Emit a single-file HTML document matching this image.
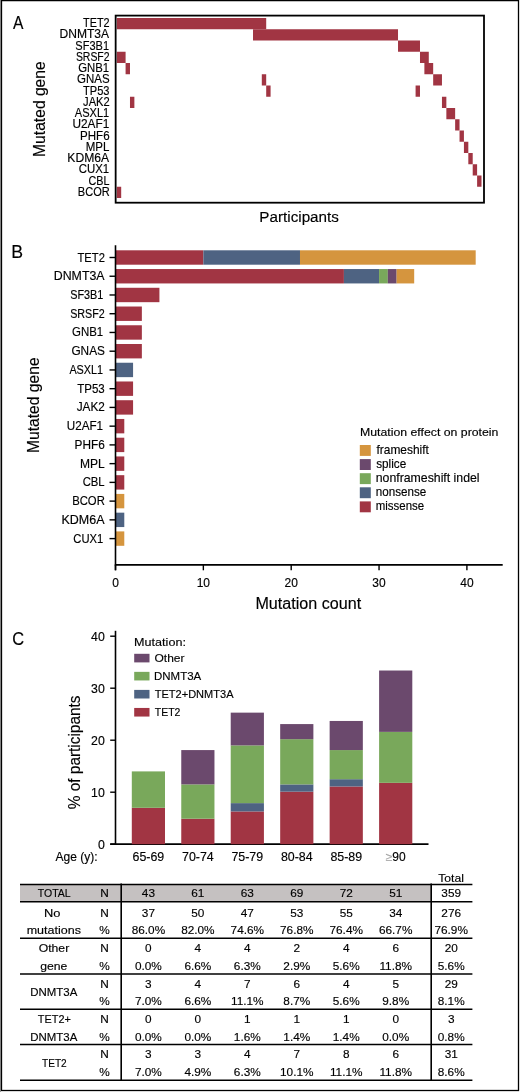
<!DOCTYPE html>
<html><head><meta charset="utf-8"><style>
html,body{margin:0;padding:0;background:#fff;}
body{width:520px;height:1092px;overflow:hidden;}
svg{display:block;font-family:"Liberation Sans", sans-serif;fill:#000000;will-change:transform;}
text{stroke:#000000;stroke-width:0.15px;}
</style></head><body>
<svg width="520" height="1092" viewBox="0 0 520 1092">
<rect x="0" y="0" width="520" height="1092" fill="#fff"/>
<line x1="0.50" y1="0.00" x2="0.50" y2="1092.00" stroke="#9a9a9a" stroke-width="1"/>
<rect x="1.5" y="0.6" width="517" height="1089.9" fill="none" stroke="#000000" stroke-width="1.3"/>
<text x="12.90" y="29.00" font-size="17.5" textLength="10.44" lengthAdjust="spacingAndGlyphs" >A</text>
<text x="83.08" y="27.20" font-size="12.4" textLength="26.60" lengthAdjust="spacingAndGlyphs" >TET2</text>
<text x="59.53" y="38.45" font-size="12.4" textLength="49.63" lengthAdjust="spacingAndGlyphs" >DNMT3A</text>
<text x="75.36" y="49.70" font-size="12.4" textLength="33.69" lengthAdjust="spacingAndGlyphs" >SF3B1</text>
<text x="75.88" y="60.95" font-size="12.4" textLength="33.69" lengthAdjust="spacingAndGlyphs" >SRSF2</text>
<text x="78.24" y="72.20" font-size="12.4" textLength="30.92" lengthAdjust="spacingAndGlyphs" >GNB1</text>
<text x="77.04" y="83.45" font-size="12.4" textLength="32.51" lengthAdjust="spacingAndGlyphs" >GNAS</text>
<text x="83.08" y="94.70" font-size="12.4" textLength="26.46" lengthAdjust="spacingAndGlyphs" >TP53</text>
<text x="83.07" y="105.95" font-size="12.4" textLength="26.69" lengthAdjust="spacingAndGlyphs" >JAK2</text>
<text x="74.80" y="117.20" font-size="12.4" textLength="34.42" lengthAdjust="spacingAndGlyphs" >ASXL1</text>
<text x="72.49" y="128.45" font-size="12.4" textLength="36.77" lengthAdjust="spacingAndGlyphs" >U2AF1</text>
<text x="80.07" y="139.70" font-size="12.4" textLength="29.54" lengthAdjust="spacingAndGlyphs" >PHF6</text>
<text x="85.77" y="150.95" font-size="12.4" textLength="23.65" lengthAdjust="spacingAndGlyphs" >MPL</text>
<text x="67.32" y="162.20" font-size="12.4" textLength="41.83" lengthAdjust="spacingAndGlyphs" >KDM6A</text>
<text x="78.74" y="173.45" font-size="12.4" textLength="30.48" lengthAdjust="spacingAndGlyphs" >CUX1</text>
<text x="88.57" y="184.70" font-size="12.4" textLength="20.95" lengthAdjust="spacingAndGlyphs" >CBL</text>
<text x="77.81" y="195.95" font-size="12.4" textLength="31.89" lengthAdjust="spacingAndGlyphs" >BCOR</text>
<g transform="translate(44.90,155.70) rotate(-90)">
<text x="-1.24" y="0.00" font-size="15.8" textLength="95.66" lengthAdjust="spacingAndGlyphs" >Mutated gene</text>
</g>
<rect x="116.80" y="18.00" width="149.40" height="11.25" fill="#a13543"/>
<rect x="253.01" y="29.25" width="145.00" height="11.25" fill="#a13543"/>
<rect x="398.02" y="40.50" width="21.97" height="11.25" fill="#a13543"/>
<rect x="116.80" y="51.75" width="8.79" height="11.25" fill="#a13543"/>
<rect x="419.99" y="51.75" width="8.79" height="11.25" fill="#a13543"/>
<rect x="125.59" y="63.00" width="4.39" height="11.25" fill="#a13543"/>
<rect x="424.38" y="63.00" width="8.79" height="11.25" fill="#a13543"/>
<rect x="261.80" y="74.25" width="4.39" height="11.25" fill="#a13543"/>
<rect x="433.17" y="74.25" width="8.79" height="11.25" fill="#a13543"/>
<rect x="266.20" y="85.50" width="4.39" height="11.25" fill="#a13543"/>
<rect x="415.59" y="85.50" width="4.39" height="11.25" fill="#a13543"/>
<rect x="129.98" y="96.75" width="4.39" height="11.25" fill="#a13543"/>
<rect x="441.96" y="96.75" width="4.39" height="11.25" fill="#a13543"/>
<rect x="446.35" y="108.00" width="8.79" height="11.25" fill="#a13543"/>
<rect x="455.14" y="119.25" width="4.39" height="11.25" fill="#a13543"/>
<rect x="459.53" y="130.50" width="4.39" height="11.25" fill="#a13543"/>
<rect x="463.93" y="141.75" width="4.39" height="11.25" fill="#a13543"/>
<rect x="468.32" y="153.00" width="4.39" height="11.25" fill="#a13543"/>
<rect x="472.71" y="164.25" width="4.39" height="11.25" fill="#a13543"/>
<rect x="477.11" y="175.50" width="4.39" height="11.25" fill="#a13543"/>
<rect x="116.80" y="186.75" width="4.39" height="11.25" fill="#a13543"/>
<rect x="115.65" y="15.6" width="368.35" height="187.1" fill="none" stroke="#000000" stroke-width="1.8"/>
<text x="259.36" y="221.70" font-size="15.4" textLength="79.55" lengthAdjust="spacingAndGlyphs" >Participants</text>
<text x="11.34" y="258.30" font-size="17.5" textLength="11.81" lengthAdjust="spacingAndGlyphs" >B</text>
<text x="77.52" y="261.50" font-size="12.1" textLength="27.42" lengthAdjust="spacingAndGlyphs" >TET2</text>
<line x1="109.50" y1="257.50" x2="115.50" y2="257.50" stroke="#000000" stroke-width="1.4"/>
<rect x="115.50" y="250.30" width="87.85" height="14.40" fill="#a13543"/>
<rect x="203.35" y="250.30" width="96.64" height="14.40" fill="#4e6382"/>
<rect x="299.99" y="250.30" width="175.70" height="14.40" fill="#d5953e"/>
<text x="53.73" y="280.24" font-size="12.1" textLength="50.86" lengthAdjust="spacingAndGlyphs" >DNMT3A</text>
<line x1="109.50" y1="276.24" x2="115.50" y2="276.24" stroke="#000000" stroke-width="1.4"/>
<rect x="115.50" y="269.04" width="228.41" height="14.40" fill="#a13543"/>
<rect x="343.91" y="269.04" width="35.14" height="14.40" fill="#4e6382"/>
<rect x="379.05" y="269.04" width="8.79" height="14.40" fill="#79a85b"/>
<rect x="387.83" y="269.04" width="8.79" height="14.40" fill="#6b496d"/>
<rect x="396.62" y="269.04" width="17.57" height="14.40" fill="#d5953e"/>
<text x="70.15" y="298.98" font-size="12.1" textLength="33.18" lengthAdjust="spacingAndGlyphs" >SF3B1</text>
<line x1="109.50" y1="294.98" x2="115.50" y2="294.98" stroke="#000000" stroke-width="1.4"/>
<rect x="115.50" y="287.78" width="43.92" height="14.40" fill="#a13543"/>
<text x="70.16" y="317.72" font-size="12.1" textLength="34.68" lengthAdjust="spacingAndGlyphs" >SRSF2</text>
<line x1="109.50" y1="313.72" x2="115.50" y2="313.72" stroke="#000000" stroke-width="1.4"/>
<rect x="115.50" y="306.52" width="26.36" height="14.40" fill="#a13543"/>
<text x="72.03" y="336.46" font-size="12.1" textLength="31.14" lengthAdjust="spacingAndGlyphs" >GNB1</text>
<line x1="109.50" y1="332.46" x2="115.50" y2="332.46" stroke="#000000" stroke-width="1.4"/>
<rect x="115.50" y="325.26" width="26.36" height="14.40" fill="#a13543"/>
<text x="71.41" y="355.20" font-size="12.1" textLength="33.51" lengthAdjust="spacingAndGlyphs" >GNAS</text>
<line x1="109.50" y1="351.20" x2="115.50" y2="351.20" stroke="#000000" stroke-width="1.4"/>
<rect x="115.50" y="344.00" width="26.36" height="14.40" fill="#a13543"/>
<text x="69.40" y="373.94" font-size="12.1" textLength="33.71" lengthAdjust="spacingAndGlyphs" >ASXL1</text>
<line x1="109.50" y1="369.94" x2="115.50" y2="369.94" stroke="#000000" stroke-width="1.4"/>
<rect x="115.50" y="362.74" width="17.57" height="14.40" fill="#4e6382"/>
<text x="77.26" y="392.68" font-size="12.1" textLength="27.52" lengthAdjust="spacingAndGlyphs" >TP53</text>
<line x1="109.50" y1="388.68" x2="115.50" y2="388.68" stroke="#000000" stroke-width="1.4"/>
<rect x="115.50" y="381.48" width="17.57" height="14.40" fill="#a13543"/>
<text x="76.66" y="411.42" font-size="12.1" textLength="28.14" lengthAdjust="spacingAndGlyphs" >JAK2</text>
<line x1="109.50" y1="407.42" x2="115.50" y2="407.42" stroke="#000000" stroke-width="1.4"/>
<rect x="115.50" y="400.22" width="17.57" height="14.40" fill="#a13543"/>
<text x="66.78" y="430.16" font-size="12.1" textLength="36.35" lengthAdjust="spacingAndGlyphs" >U2AF1</text>
<line x1="109.50" y1="426.16" x2="115.50" y2="426.16" stroke="#000000" stroke-width="1.4"/>
<rect x="115.50" y="418.96" width="8.79" height="14.40" fill="#a13543"/>
<text x="74.62" y="448.90" font-size="12.1" textLength="30.19" lengthAdjust="spacingAndGlyphs" >PHF6</text>
<line x1="109.50" y1="444.90" x2="115.50" y2="444.90" stroke="#000000" stroke-width="1.4"/>
<rect x="115.50" y="437.70" width="8.79" height="14.40" fill="#a13543"/>
<text x="80.00" y="467.64" font-size="12.1" textLength="24.77" lengthAdjust="spacingAndGlyphs" >MPL</text>
<line x1="109.50" y1="463.64" x2="115.50" y2="463.64" stroke="#000000" stroke-width="1.4"/>
<rect x="115.50" y="456.44" width="8.79" height="14.40" fill="#a13543"/>
<text x="82.63" y="486.38" font-size="12.1" textLength="22.03" lengthAdjust="spacingAndGlyphs" >CBL</text>
<line x1="109.50" y1="482.38" x2="115.50" y2="482.38" stroke="#000000" stroke-width="1.4"/>
<rect x="115.50" y="475.18" width="8.79" height="14.40" fill="#a13543"/>
<text x="72.17" y="505.12" font-size="12.1" textLength="32.66" lengthAdjust="spacingAndGlyphs" >BCOR</text>
<line x1="109.50" y1="501.12" x2="115.50" y2="501.12" stroke="#000000" stroke-width="1.4"/>
<rect x="115.50" y="493.92" width="8.79" height="14.40" fill="#d5953e"/>
<text x="61.47" y="523.86" font-size="12.1" textLength="43.05" lengthAdjust="spacingAndGlyphs" >KDM6A</text>
<line x1="109.50" y1="519.86" x2="115.50" y2="519.86" stroke="#000000" stroke-width="1.4"/>
<rect x="115.50" y="512.66" width="8.79" height="14.40" fill="#4e6382"/>
<text x="73.29" y="542.60" font-size="12.1" textLength="29.94" lengthAdjust="spacingAndGlyphs" >CUX1</text>
<line x1="109.50" y1="538.60" x2="115.50" y2="538.60" stroke="#000000" stroke-width="1.4"/>
<rect x="115.50" y="531.40" width="8.79" height="14.40" fill="#d5953e"/>
<g transform="translate(39.20,451.80) rotate(-90)">
<text x="-1.24" y="0.00" font-size="15.8" textLength="95.66" lengthAdjust="spacingAndGlyphs" >Mutated gene</text>
</g>
<line x1="115.50" y1="245.20" x2="115.50" y2="570.30" stroke="#000000" stroke-width="1.6"/>
<line x1="114.80" y1="564.90" x2="502.70" y2="564.90" stroke="#000000" stroke-width="1.7"/>
<line x1="115.50" y1="564.90" x2="115.50" y2="570.30" stroke="#000000" stroke-width="1.4"/>
<text x="115.50" y="587.20" font-size="12.0" text-anchor="middle" >0</text>
<line x1="203.35" y1="564.90" x2="203.35" y2="570.30" stroke="#000000" stroke-width="1.4"/>
<text x="203.35" y="587.20" font-size="12.0" text-anchor="middle" >10</text>
<line x1="291.20" y1="564.90" x2="291.20" y2="570.30" stroke="#000000" stroke-width="1.4"/>
<text x="291.20" y="587.20" font-size="12.0" text-anchor="middle" >20</text>
<line x1="379.05" y1="564.90" x2="379.05" y2="570.30" stroke="#000000" stroke-width="1.4"/>
<text x="379.05" y="587.20" font-size="12.0" text-anchor="middle" >30</text>
<line x1="466.90" y1="564.90" x2="466.90" y2="570.30" stroke="#000000" stroke-width="1.4"/>
<text x="466.90" y="587.20" font-size="12.0" text-anchor="middle" >40</text>
<text x="255.44" y="609.40" font-size="16.0" textLength="105.71" lengthAdjust="spacingAndGlyphs" >Mutation count</text>
<text x="359.98" y="436.00" font-size="11.2" textLength="138.42" lengthAdjust="spacingAndGlyphs" >Mutation effect on protein</text>
<rect x="359.80" y="445.00" width="11.00" height="10.90" fill="#d5953e"/>
<text x="376.50" y="453.70" font-size="12.1" textLength="52.39" lengthAdjust="spacingAndGlyphs" >frameshift</text>
<rect x="359.80" y="459.10" width="11.00" height="10.90" fill="#6b496d"/>
<text x="376.26" y="467.80" font-size="12.1" textLength="29.95" lengthAdjust="spacingAndGlyphs" >splice</text>
<rect x="359.80" y="473.20" width="11.00" height="10.90" fill="#79a85b"/>
<text x="375.74" y="481.90" font-size="12.1" textLength="103.86" lengthAdjust="spacingAndGlyphs" >nonframeshift indel</text>
<rect x="359.80" y="487.30" width="11.00" height="10.90" fill="#4e6382"/>
<text x="375.78" y="496.00" font-size="12.1" textLength="50.46" lengthAdjust="spacingAndGlyphs" >nonsense</text>
<rect x="359.80" y="501.40" width="11.00" height="10.90" fill="#a13543"/>
<text x="375.79" y="510.10" font-size="12.1" textLength="48.33" lengthAdjust="spacingAndGlyphs" >missense</text>
<text x="12.20" y="645.40" font-size="17.5" textLength="11.80" lengthAdjust="spacingAndGlyphs" >C</text>
<g transform="translate(80.00,808.70) rotate(-90)">
<text x="-0.48" y="0.00" font-size="15.9" textLength="113.65" lengthAdjust="spacingAndGlyphs" >% of participants</text>
</g>
<line x1="110.20" y1="844.20" x2="115.50" y2="844.20" stroke="#000000" stroke-width="1.4"/>
<text x="104.80" y="848.50" font-size="12.3" text-anchor="end" >0</text>
<line x1="110.20" y1="792.20" x2="115.50" y2="792.20" stroke="#000000" stroke-width="1.4"/>
<text x="104.80" y="796.50" font-size="12.3" text-anchor="end" >10</text>
<line x1="110.20" y1="740.20" x2="115.50" y2="740.20" stroke="#000000" stroke-width="1.4"/>
<text x="104.80" y="744.50" font-size="12.3" text-anchor="end" >20</text>
<line x1="110.20" y1="688.20" x2="115.50" y2="688.20" stroke="#000000" stroke-width="1.4"/>
<text x="104.80" y="692.50" font-size="12.3" text-anchor="end" >30</text>
<line x1="110.20" y1="636.20" x2="115.50" y2="636.20" stroke="#000000" stroke-width="1.4"/>
<text x="104.80" y="640.50" font-size="12.3" text-anchor="end" >40</text>
<line x1="115.50" y1="630.80" x2="115.50" y2="845.00" stroke="#000000" stroke-width="1.6"/>
<line x1="110.20" y1="844.20" x2="428.50" y2="844.20" stroke="#000000" stroke-width="1.7"/>
<rect x="131.80" y="807.80" width="33.20" height="36.40" fill="#a13543"/>
<rect x="131.80" y="771.40" width="33.20" height="36.40" fill="#79a85b"/>
<text x="148.40" y="861.20" font-size="12.4" text-anchor="middle" >65-69</text>
<rect x="181.26" y="818.72" width="33.20" height="25.48" fill="#a13543"/>
<rect x="181.26" y="784.40" width="33.20" height="34.32" fill="#79a85b"/>
<rect x="181.26" y="750.08" width="33.20" height="34.32" fill="#6b496d"/>
<text x="197.86" y="861.20" font-size="12.4" text-anchor="middle" >70-74</text>
<rect x="230.72" y="811.44" width="33.20" height="32.76" fill="#a13543"/>
<rect x="230.72" y="803.12" width="33.20" height="8.32" fill="#4e6382"/>
<rect x="230.72" y="745.40" width="33.20" height="57.72" fill="#79a85b"/>
<rect x="230.72" y="712.64" width="33.20" height="32.76" fill="#6b496d"/>
<text x="247.32" y="861.20" font-size="12.4" text-anchor="middle" >75-79</text>
<rect x="280.18" y="791.68" width="33.20" height="52.52" fill="#a13543"/>
<rect x="280.18" y="784.40" width="33.20" height="7.28" fill="#4e6382"/>
<rect x="280.18" y="739.16" width="33.20" height="45.24" fill="#79a85b"/>
<rect x="280.18" y="724.08" width="33.20" height="15.08" fill="#6b496d"/>
<text x="296.78" y="861.20" font-size="12.4" text-anchor="middle" >80-84</text>
<rect x="329.64" y="786.48" width="33.20" height="57.72" fill="#a13543"/>
<rect x="329.64" y="779.20" width="33.20" height="7.28" fill="#4e6382"/>
<rect x="329.64" y="750.08" width="33.20" height="29.12" fill="#79a85b"/>
<rect x="329.64" y="720.96" width="33.20" height="29.12" fill="#6b496d"/>
<text x="346.24" y="861.20" font-size="12.4" text-anchor="middle" >85-89</text>
<rect x="379.10" y="782.84" width="33.20" height="61.36" fill="#a13543"/>
<rect x="379.10" y="731.88" width="33.20" height="50.96" fill="#79a85b"/>
<rect x="379.10" y="670.52" width="33.20" height="61.36" fill="#6b496d"/>
<text x="395.70" y="861.2" font-size="12.0" text-anchor="middle"><tspan fill="#a3a3a3" stroke="#a3a3a3">&#8805;</tspan>90</text>
<text x="97.50" y="861.20" font-size="12.0" text-anchor="end" >Age (y):</text>
<text x="134.13" y="645.50" font-size="11.8" textLength="51.77" lengthAdjust="spacingAndGlyphs" >Mutation:</text>
<rect x="134.20" y="653.80" width="15.30" height="8.60" fill="#6b496d"/>
<text x="154.49" y="661.60" font-size="11.8" textLength="30.02" lengthAdjust="spacingAndGlyphs" >Other</text>
<rect x="134.20" y="671.85" width="15.30" height="8.60" fill="#79a85b"/>
<text x="154.03" y="679.65" font-size="11.8" textLength="47.19" lengthAdjust="spacingAndGlyphs" >DNMT3A</text>
<rect x="134.20" y="689.90" width="15.30" height="8.60" fill="#4e6382"/>
<text x="154.77" y="697.70" font-size="11.8" textLength="78.72" lengthAdjust="spacingAndGlyphs" >TET2+DNMT3A</text>
<rect x="134.20" y="707.95" width="15.30" height="8.60" fill="#a13543"/>
<text x="154.78" y="715.75" font-size="11.8" textLength="25.65" lengthAdjust="spacingAndGlyphs" >TET2</text>
<text x="438.24" y="881.90" font-size="11.8" textLength="25.65" lengthAdjust="spacingAndGlyphs" >Total</text>
<rect x="20.00" y="884.70" width="411.00" height="16.60" fill="#c5c1c1"/>
<line x1="20.00" y1="884.40" x2="472.40" y2="884.40" stroke="#000000" stroke-width="1.5"/>
<line x1="20.00" y1="901.80" x2="472.40" y2="901.80" stroke="#000000" stroke-width="1.5"/>
<line x1="20.00" y1="938.20" x2="472.40" y2="938.20" stroke="#000000" stroke-width="1.5"/>
<line x1="20.00" y1="974.00" x2="472.40" y2="974.00" stroke="#000000" stroke-width="1.5"/>
<line x1="20.00" y1="1009.30" x2="472.40" y2="1009.30" stroke="#000000" stroke-width="1.5"/>
<line x1="20.00" y1="1044.50" x2="472.40" y2="1044.50" stroke="#000000" stroke-width="1.5"/>
<line x1="20.00" y1="1080.20" x2="472.40" y2="1080.20" stroke="#000000" stroke-width="1.5"/>
<line x1="121.20" y1="883.50" x2="121.20" y2="1080.90" stroke="#000000" stroke-width="1.6"/>
<line x1="431.20" y1="883.50" x2="431.20" y2="1080.90" stroke="#000000" stroke-width="1.6"/>
<text x="37.78" y="897.30" font-size="11.8" textLength="32.89" lengthAdjust="spacingAndGlyphs" >TOTAL</text>
<text x="104.40" y="897.30" font-size="11.8" text-anchor="middle" >N</text>
<text x="148.40" y="897.30" font-size="11.8" text-anchor="middle" >43</text>
<text x="197.86" y="897.30" font-size="11.8" text-anchor="middle" >61</text>
<text x="247.32" y="897.30" font-size="11.8" text-anchor="middle" >63</text>
<text x="296.78" y="897.30" font-size="11.8" text-anchor="middle" >69</text>
<text x="346.24" y="897.30" font-size="11.8" text-anchor="middle" >72</text>
<text x="395.70" y="897.30" font-size="11.8" text-anchor="middle" >51</text>
<text x="451.20" y="897.30" font-size="11.8" text-anchor="middle" >359</text>
<text x="43.91" y="916.70" font-size="11.8" textLength="16.47" lengthAdjust="spacingAndGlyphs" >No</text>
<text x="26.70" y="934.00" font-size="11.8" textLength="54.23" lengthAdjust="spacingAndGlyphs" >mutations</text>
<text x="104.40" y="916.70" font-size="11.8" text-anchor="middle" >N</text>
<text x="104.40" y="934.00" font-size="11.8" text-anchor="middle" >%</text>
<text x="148.40" y="916.70" font-size="11.8" text-anchor="middle" >37</text>
<text x="197.86" y="916.70" font-size="11.8" text-anchor="middle" >50</text>
<text x="247.32" y="916.70" font-size="11.8" text-anchor="middle" >47</text>
<text x="296.78" y="916.70" font-size="11.8" text-anchor="middle" >53</text>
<text x="346.24" y="916.70" font-size="11.8" text-anchor="middle" >55</text>
<text x="395.70" y="916.70" font-size="11.8" text-anchor="middle" >34</text>
<text x="451.20" y="916.70" font-size="11.8" text-anchor="middle" >276</text>
<text x="148.40" y="934.00" font-size="11.8" text-anchor="middle" >86.0%</text>
<text x="197.86" y="934.00" font-size="11.8" text-anchor="middle" >82.0%</text>
<text x="247.32" y="934.00" font-size="11.8" text-anchor="middle" >74.6%</text>
<text x="296.78" y="934.00" font-size="11.8" text-anchor="middle" >76.8%</text>
<text x="346.24" y="934.00" font-size="11.8" text-anchor="middle" >76.4%</text>
<text x="395.70" y="934.00" font-size="11.8" text-anchor="middle" >66.7%</text>
<text x="451.20" y="934.00" font-size="11.8" text-anchor="middle" >76.9%</text>
<text x="38.68" y="952.10" font-size="11.8" textLength="30.53" lengthAdjust="spacingAndGlyphs" >Other</text>
<text x="40.28" y="969.50" font-size="11.8" textLength="27.13" lengthAdjust="spacingAndGlyphs" >gene</text>
<text x="104.40" y="952.10" font-size="11.8" text-anchor="middle" >N</text>
<text x="104.40" y="969.50" font-size="11.8" text-anchor="middle" >%</text>
<text x="148.40" y="952.10" font-size="11.8" text-anchor="middle" >0</text>
<text x="197.86" y="952.10" font-size="11.8" text-anchor="middle" >4</text>
<text x="247.32" y="952.10" font-size="11.8" text-anchor="middle" >4</text>
<text x="296.78" y="952.10" font-size="11.8" text-anchor="middle" >2</text>
<text x="346.24" y="952.10" font-size="11.8" text-anchor="middle" >4</text>
<text x="395.70" y="952.10" font-size="11.8" text-anchor="middle" >6</text>
<text x="451.20" y="952.10" font-size="11.8" text-anchor="middle" >20</text>
<text x="148.40" y="969.50" font-size="11.8" text-anchor="middle" >0.0%</text>
<text x="197.86" y="969.50" font-size="11.8" text-anchor="middle" >6.6%</text>
<text x="247.32" y="969.50" font-size="11.8" text-anchor="middle" >6.3%</text>
<text x="296.78" y="969.50" font-size="11.8" text-anchor="middle" >2.9%</text>
<text x="346.24" y="969.50" font-size="11.8" text-anchor="middle" >5.6%</text>
<text x="395.70" y="969.50" font-size="11.8" text-anchor="middle" >11.8%</text>
<text x="451.20" y="969.50" font-size="11.8" text-anchor="middle" >5.6%</text>
<text x="30.23" y="996.25" font-size="11.8" textLength="47.09" lengthAdjust="spacingAndGlyphs" >DNMT3A</text>
<text x="104.40" y="987.50" font-size="11.8" text-anchor="middle" >N</text>
<text x="104.40" y="1005.00" font-size="11.8" text-anchor="middle" >%</text>
<text x="148.40" y="987.50" font-size="11.8" text-anchor="middle" >3</text>
<text x="197.86" y="987.50" font-size="11.8" text-anchor="middle" >4</text>
<text x="247.32" y="987.50" font-size="11.8" text-anchor="middle" >7</text>
<text x="296.78" y="987.50" font-size="11.8" text-anchor="middle" >6</text>
<text x="346.24" y="987.50" font-size="11.8" text-anchor="middle" >4</text>
<text x="395.70" y="987.50" font-size="11.8" text-anchor="middle" >5</text>
<text x="451.20" y="987.50" font-size="11.8" text-anchor="middle" >29</text>
<text x="148.40" y="1005.00" font-size="11.8" text-anchor="middle" >7.0%</text>
<text x="197.86" y="1005.00" font-size="11.8" text-anchor="middle" >6.6%</text>
<text x="247.32" y="1005.00" font-size="11.8" text-anchor="middle" >11.1%</text>
<text x="296.78" y="1005.00" font-size="11.8" text-anchor="middle" >8.7%</text>
<text x="346.24" y="1005.00" font-size="11.8" text-anchor="middle" >5.6%</text>
<text x="395.70" y="1005.00" font-size="11.8" text-anchor="middle" >9.8%</text>
<text x="451.20" y="1005.00" font-size="11.8" text-anchor="middle" >8.1%</text>
<text x="37.87" y="1022.90" font-size="11.8" textLength="32.98" lengthAdjust="spacingAndGlyphs" >TET2+</text>
<text x="30.23" y="1040.50" font-size="11.8" textLength="47.09" lengthAdjust="spacingAndGlyphs" >DNMT3A</text>
<text x="104.40" y="1022.90" font-size="11.8" text-anchor="middle" >N</text>
<text x="104.40" y="1040.50" font-size="11.8" text-anchor="middle" >%</text>
<text x="148.40" y="1022.90" font-size="11.8" text-anchor="middle" >0</text>
<text x="197.86" y="1022.90" font-size="11.8" text-anchor="middle" >0</text>
<text x="247.32" y="1022.90" font-size="11.8" text-anchor="middle" >1</text>
<text x="296.78" y="1022.90" font-size="11.8" text-anchor="middle" >1</text>
<text x="346.24" y="1022.90" font-size="11.8" text-anchor="middle" >1</text>
<text x="395.70" y="1022.90" font-size="11.8" text-anchor="middle" >0</text>
<text x="451.20" y="1022.90" font-size="11.8" text-anchor="middle" >3</text>
<text x="148.40" y="1040.50" font-size="11.8" text-anchor="middle" >0.0%</text>
<text x="197.86" y="1040.50" font-size="11.8" text-anchor="middle" >0.0%</text>
<text x="247.32" y="1040.50" font-size="11.8" text-anchor="middle" >1.6%</text>
<text x="296.78" y="1040.50" font-size="11.8" text-anchor="middle" >1.4%</text>
<text x="346.24" y="1040.50" font-size="11.8" text-anchor="middle" >1.4%</text>
<text x="395.70" y="1040.50" font-size="11.8" text-anchor="middle" >0.0%</text>
<text x="451.20" y="1040.50" font-size="11.8" text-anchor="middle" >0.8%</text>
<text x="41.99" y="1067.15" font-size="11.8" textLength="24.72" lengthAdjust="spacingAndGlyphs" >TET2</text>
<text x="104.40" y="1058.30" font-size="11.8" text-anchor="middle" >N</text>
<text x="104.40" y="1076.00" font-size="11.8" text-anchor="middle" >%</text>
<text x="148.40" y="1058.30" font-size="11.8" text-anchor="middle" >3</text>
<text x="197.86" y="1058.30" font-size="11.8" text-anchor="middle" >3</text>
<text x="247.32" y="1058.30" font-size="11.8" text-anchor="middle" >4</text>
<text x="296.78" y="1058.30" font-size="11.8" text-anchor="middle" >7</text>
<text x="346.24" y="1058.30" font-size="11.8" text-anchor="middle" >8</text>
<text x="395.70" y="1058.30" font-size="11.8" text-anchor="middle" >6</text>
<text x="451.20" y="1058.30" font-size="11.8" text-anchor="middle" >31</text>
<text x="148.40" y="1076.00" font-size="11.8" text-anchor="middle" >7.0%</text>
<text x="197.86" y="1076.00" font-size="11.8" text-anchor="middle" >4.9%</text>
<text x="247.32" y="1076.00" font-size="11.8" text-anchor="middle" >6.3%</text>
<text x="296.78" y="1076.00" font-size="11.8" text-anchor="middle" >10.1%</text>
<text x="346.24" y="1076.00" font-size="11.8" text-anchor="middle" >11.1%</text>
<text x="395.70" y="1076.00" font-size="11.8" text-anchor="middle" >11.8%</text>
<text x="451.20" y="1076.00" font-size="11.8" text-anchor="middle" >8.6%</text>
</svg>
</body></html>
